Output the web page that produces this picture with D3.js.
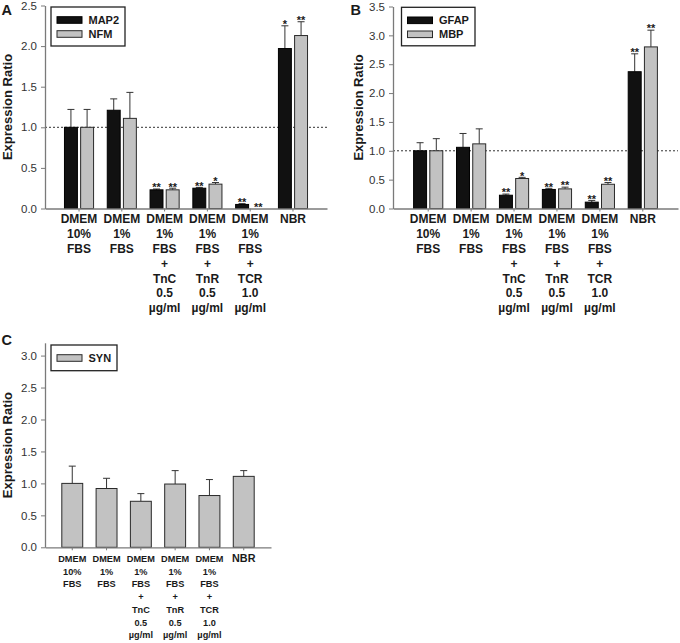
<!DOCTYPE html>
<html><head><meta charset="utf-8">
<script src="https://cdn.jsdelivr.net/npm/d3@7/dist/d3.min.js"></script>
<style>
html,body{margin:0;padding:0;background:#fff;}
svg{display:block;font-family:"Liberation Sans",Arial,sans-serif;}
</style></head>
<body>
<svg id="chart" width="680" height="643"></svg>
<script>
// ---------- data ----------
const groupLabels = [
  ["DMEM","10%","FBS"],
  ["DMEM","1%","FBS"],
  ["DMEM","1%","FBS","+","TnC","0.5","µg/ml"],
  ["DMEM","1%","FBS","+","TnR","0.5","µg/ml"],
  ["DMEM","1%","FBS","+","TCR","1.0","µg/ml"],
  ["NBR"]
];
const yTicksA = [0, 0.5, 1.0, 1.5, 2.0, 2.5];
const yTicksB = [0, 0.5, 1.0, 1.5, 2.0, 2.5, 3.0, 3.5];
const yTicksC = [0, 0.5, 1.0, 1.5, 2.0, 2.5, 3.0];

const MAP2     = [1.00, 1.21, 0.23, 0.25, 0.05, 1.97];
const MAP2_err = [0.22, 0.14, 0.01, 0.01, 0.01, 0.28];
const MAP2_sig = ["", "", "**", "**", "**", "*"];
const NFM      = [1.00, 1.11, 0.23, 0.30, 0.00, 2.13];
const NFM_err  = [0.22, 0.32, 0.02, 0.02, 0.00, 0.17];
const NFM_sig  = ["", "", "**", "*", "**", "**"];

const GFAP     = [1.00, 1.06, 0.23, 0.33, 0.11, 2.37];
const GFAP_err = [0.14, 0.24, 0.02, 0.02, 0.03, 0.31];
const GFAP_sig = ["", "", "**", "**", "**", "**"];
const MBP      = [1.00, 1.12, 0.52, 0.34, 0.42, 2.80];
const MBP_err  = [0.21, 0.26, 0.02, 0.03, 0.03, 0.29];
const MBP_sig  = ["", "", "*", "**", "**", "**"];

const SYN      = [1.00, 0.92, 0.72, 0.99, 0.81, 1.11];
const SYN_err  = [0.27, 0.16, 0.12, 0.21, 0.25, 0.09];
const SYN_sig  = ["", "", "", "", "", ""];

// ---------- drawing ----------
const svg = d3.select("#chart");
const BLACK = "#111", GREY = "#c2c2c2", AXIS = "#7a7a7a", TXT = "#1a1a1a";

function drawPanel(cfg) {
  const g = svg.append("g");
  const n = groupLabels.length;
  const x = d3.scaleBand().domain(d3.range(n)).range([cfg.x0, cfg.x1])
    .paddingInner(cfg.padIn).paddingOuter(cfg.padOut);
  const sub = d3.scaleBand().domain(d3.range(cfg.series.length))
    .range([0, x.bandwidth()]).paddingInner(cfg.series.length > 1 ? 0.2 : 0);
  const y = d3.scaleLinear().domain([0, cfg.ymax]).range([cfg.yb, cfg.yt]);

  // reference line
  if (cfg.refLine) {
    g.append("line").attr("x1", cfg.x0).attr("x2", cfg.x1)
      .attr("y1", y(1)).attr("y2", y(1))
      .attr("stroke", "#333").attr("stroke-width", 1).attr("stroke-dasharray", "2,2");
  }

  // bars
  cfg.series.forEach((s, si) => {
    const bars = g.append("g");
    s.values.forEach((v, i) => {
      const bx = x(i) + sub(si), bw = sub.bandwidth();
      const cx = bx + bw / 2;
      const top = v + s.err[i];
      if (s.err[i] > 0) {
        bars.append("line").attr("x1", cx).attr("x2", cx)
          .attr("y1", y(v)).attr("y2", y(top))
          .attr("stroke", "#333").attr("stroke-width", 1);
        bars.append("line").attr("x1", cx - 3.5).attr("x2", cx + 3.5)
          .attr("y1", y(top)).attr("y2", y(top))
          .attr("stroke", "#333").attr("stroke-width", 1);
      }
      if (v > 0) {
        bars.append("rect").attr("x", bx).attr("y", y(v))
          .attr("width", bw).attr("height", y(0) - y(v))
          .attr("fill", s.color).attr("stroke", s.color === BLACK ? "#000" : "#2a2a2a")
          .attr("stroke-width", 1);
      }
      if (s.sig[i]) {
        bars.append("text").attr("x", cx).attr("y", y(top) + 2.3)
          .attr("text-anchor", "middle").attr("font-size", 11).attr("font-weight", "bold")
          .attr("fill", TXT).text(s.sig[i]);
      }
    });
  });

  // y axis
  const ya = d3.axisLeft(y).tickValues(cfg.yTicks).tickFormat(d3.format(".1f"))
    .tickSize(4).tickPadding(4).tickSizeOuter(0);
  const yg = g.append("g").attr("transform", `translate(${cfg.x0},0)`).call(ya);
  yg.select(".domain").attr("stroke", AXIS).attr("stroke-width", 1.3);
  yg.selectAll(".tick line").attr("stroke", AXIS);
  yg.selectAll(".tick text").attr("font-size", 11.5).attr("fill", "#333")
    .attr("font-family", "Liberation Sans, Arial, sans-serif");

  // x axis
  const xa = d3.axisBottom(x).tickFormat("").tickSize(3).tickSizeOuter(0);
  const xg = g.append("g").attr("transform", `translate(0,${cfg.yb})`).call(xa);
  xg.select(".domain").attr("stroke", AXIS).attr("stroke-width", 1.3);
  xg.selectAll(".tick line").attr("stroke", AXIS);

  // category labels
  groupLabels.forEach((lines, i) => {
    const cx = x(i) + x.bandwidth() / 2;
    const isNBR = lines.length === 1;
    const fs = isNBR ? cfg.nbrFont : cfg.labFont;
    const t = g.append("text").attr("text-anchor", "middle")
      .attr("font-weight", "bold").attr("font-size", fs).attr("fill", TXT);
    lines.forEach((ln, k) => {
      t.append("tspan").attr("x", cx).attr("y", cfg.labY + k * cfg.labStep).text(ln);
    });
  });

  // y title
  g.append("text")
    .attr("transform", `translate(${cfg.titleX},${(cfg.yb + cfg.yt) / 2}) rotate(-90)`)
    .attr("text-anchor", "middle").attr("font-size", 13).attr("font-weight", "bold")
    .attr("fill", TXT).text("Expression Ratio");

  // panel letter
  g.append("text").attr("x", cfg.letterX).attr("y", cfg.letterY)
    .attr("font-size", 14.5).attr("font-weight", "bold").attr("fill", TXT).text(cfg.letter);

  // legend
  const L = cfg.legend;
  g.append("rect").attr("x", L.x).attr("y", L.y).attr("width", L.w).attr("height", L.h)
    .attr("fill", "#fff").attr("stroke", "#222").attr("stroke-width", 1.3);
  cfg.series.forEach((s, si) => {
    const cy = L.y + L.first + si * 14;
    g.append("rect").attr("x", L.x + 6).attr("y", cy - 3.3).attr("width", 25).attr("height", 6.6)
      .attr("fill", s.color).attr("stroke", s.color === BLACK ? "#000" : "#2a2a2a").attr("stroke-width", 1);
    g.append("text").attr("x", L.x + 37.5).attr("y", cy + 4).attr("font-size", 11)
      .attr("font-weight", "bold").attr("fill", TXT).text(s.name);
  });
}

drawPanel({
  letter: "A", letterX: 1.5, letterY: 15,
  x0: 45, x1: 327, yt: 5.5, yb: 208.5, ymax: 2.5, yTicks: yTicksA,
  padIn: 0.32, padOut: 0.455, refLine: true,
  titleX: 11.5, labY: 223.3, labStep: 14.8, labFont: 12, nbrFont: 12,
  legend: {x: 51, y: 7, w: 74, h: 39, first: 13},
  series: [
    {name: "MAP2", values: MAP2, err: MAP2_err, sig: MAP2_sig, color: BLACK},
    {name: "NFM",  values: NFM,  err: NFM_err,  sig: NFM_sig,  color: GREY}
  ]
});

drawPanel({
  letter: "B", letterX: 350.5, letterY: 15,
  x0: 393, x1: 678, yt: 6.5, yb: 208.5, ymax: 3.5, yTicks: yTicksB,
  padIn: 0.32, padOut: 0.48, refLine: true,
  titleX: 363, labY: 223.3, labStep: 14.8, labFont: 12, nbrFont: 12,
  legend: {x: 401.5, y: 7.3, w: 73.5, h: 38.5, first: 13},
  series: [
    {name: "GFAP", values: GFAP, err: GFAP_err, sig: GFAP_sig, color: BLACK},
    {name: "MBP",  values: MBP,  err: MBP_err,  sig: MBP_sig,  color: GREY}
  ]
});

drawPanel({
  letter: "C", letterX: 1.5, letterY: 345,
  x0: 45, x1: 271, yt: 342.8, yb: 547.3, ymax: 3.2, yTicks: yTicksC,
  padIn: 0.39, padOut: 0.49, refLine: false,
  titleX: 11.5, labY: 562, labStep: 12.7, labFont: 9.2, nbrFont: 10.8,
  legend: {x: 51, y: 345, w: 66, h: 25.7, first: 13},
  series: [
    {name: "SYN", values: SYN, err: SYN_err, sig: SYN_sig, color: GREY}
  ]
});
</script>
</body></html>
